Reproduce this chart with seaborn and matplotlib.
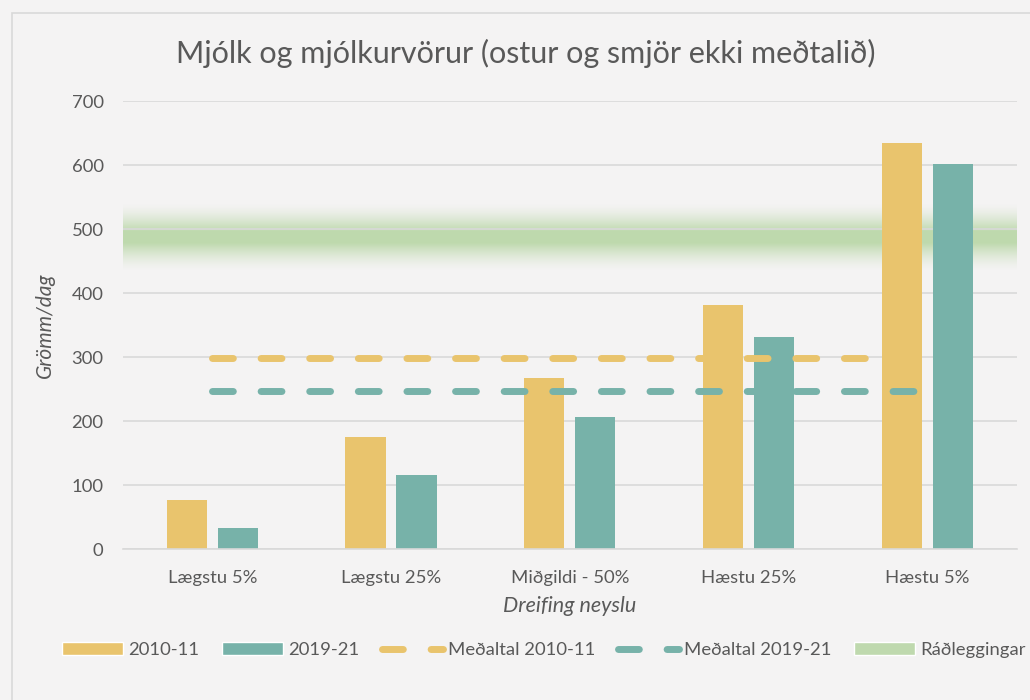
import numpy as np
import pandas as pd
import matplotlib
matplotlib.use("Agg")
import matplotlib.pyplot as plt
from matplotlib.patches import Patch, Rectangle
from matplotlib.lines import Line2D
import seaborn as sns

categories = ["Lægstu 5%", "Lægstu 25%", "Miðgildi - 50%", "Hæstu 25%", "Hæstu 5%"]
periods = ["2010-11", "2019-21"]
values_2010 = [77, 175, 267, 381, 634]
values_2019 = [33, 115, 206, 331, 601]
mean_2010 = 298
mean_2019 = 247
recommendation = 487

yellow = "#E9C46D"
teal = "#77B2A9"
green = (0.749, 0.851, 0.682)
bg = "#F4F3F3"
text_col = "#595959"

sns.set_theme(style="white")
plt.rcParams["font.family"] = ["Lato", "DejaVu Sans"]

df = pd.DataFrame({
    "cat": categories * 2,
    "val": values_2010 + values_2019,
    "period": [periods[0]] * 5 + [periods[1]] * 5,
})

fig = plt.figure(figsize=(10.3, 7), dpi=100, facecolor=bg)
ax = fig.add_axes([0.1194, 0.2157, 0.8676, 0.64])
ax.set_facecolor(bg)

# chart frame
fig.patches.append(Rectangle((12 / 1030, -0.1), 1.1, 1.1 - 13 / 700,
                             transform=fig.transFigure, fill=False,
                             edgecolor="#D9D9D9", linewidth=1.2))

sns.barplot(data=df, x="cat", y="val", hue="period", palette=[yellow, teal],
            width=0.57, gap=0.21, saturation=1, legend=False, ax=ax,
            linewidth=0, zorder=2)

# recommendation band (soft gradient)
yy = np.linspace(428, 548, 200)
d = np.abs(yy - recommendation)
alpha = np.clip(1 - (d - 9) / 44, 0, 1) ** 1.5
img = np.zeros((len(yy), 2, 4))
img[:, :, 0], img[:, :, 1], img[:, :, 2] = green
img[:, :, 3] = alpha[:, None]
ax.imshow(img, extent=[-0.5, 4.5, 428, 548], origin="lower", aspect="auto",
          zorder=0.3, interpolation="bilinear")

dash = (0, (3, 4))
ax.hlines(mean_2010, 0, 4, color=yellow, linewidth=5, linestyles=dash, zorder=3)
ax.hlines(mean_2019, 0, 4, color=teal, linewidth=5, linestyles=dash, zorder=3)
for coll in ax.collections:
    coll.set_capstyle("round")

ax.set_xlim(-0.5, 4.5)
ax.set_ylim(0, 700)
ax.set_yticks(range(0, 701, 100))
ax.yaxis.grid(True, color="#D9D9D9", linewidth=1.2)
ax.set_axisbelow(True)
for s in ["top", "right", "left"]:
    ax.spines[s].set_visible(False)
ax.spines["bottom"].set_color("#D9D9D9")
ax.spines["bottom"].set_linewidth(1.2)
ax.tick_params(axis="both", length=0, labelsize=13.3, colors=text_col)
ax.tick_params(axis="x", pad=15)
ax.tick_params(axis="y", pad=14)

ax.set_xlabel("Dreifing neyslu", fontsize=15.5, style="italic", color=text_col, labelpad=7)
ax.set_ylabel("Grömm/dag", fontsize=15, style="italic", color=text_col, labelpad=12)
fig.text(0.51, 0.923, "Mjólk og mjólkurvörur (ostur og smjör ekki meðtalið)",
         ha="center", va="center", fontsize=22, color=text_col)

handles = [
    Patch(facecolor=yellow, label="2010-11"),
    Patch(facecolor=teal, label="2019-21"),
    Line2D([0], [0], color=yellow, linewidth=5, linestyle=dash,
           dash_capstyle="round", label="Meðaltal 2010-11"),
    Line2D([0], [0], color=teal, linewidth=5, linestyle=dash,
           dash_capstyle="round", label="Meðaltal 2019-21"),
    Patch(facecolor=green, label="Ráðleggingar"),
]
fig.legend(handles=handles, loc="center", bbox_to_anchor=(0.528, 0.0714), ncol=5,
           frameon=False, fontsize=13.3, handlelength=3.3, handleheight=0.65,
           handletextpad=0.3, columnspacing=1.2, labelcolor=text_col)

fig.savefig("out.png", dpi=100, facecolor=bg)
